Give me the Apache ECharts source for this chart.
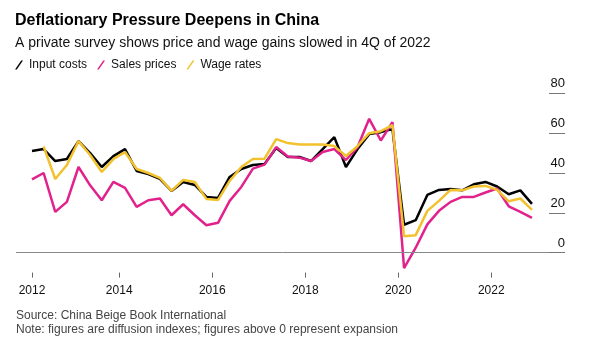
<!DOCTYPE html>
<html>
<head>
<meta charset="utf-8">
<script src="https://cdn.jsdelivr.net/npm/echarts@6/dist/echarts.min.js"></script>
<style>
html,body{margin:0;padding:0;background:#fff;}
#chart{width:591px;height:351px;}
</style>
</head>
<body>
<div id="chart"></div>
<script>
// ---- data (quarterly diffusion indexes) ----
const quarters = [
  '2012Q1','2012Q2','2012Q3','2012Q4','2013Q1','2013Q2','2013Q3','2013Q4',
  '2014Q1','2014Q2','2014Q3','2014Q4','2015Q1','2015Q2','2015Q3','2015Q4',
  '2016Q1','2016Q2','2016Q3','2016Q4','2017Q1','2017Q2','2017Q3','2017Q4',
  '2018Q1','2018Q2','2018Q3','2018Q4','2019Q1','2019Q2','2019Q3','2019Q4',
  '2020Q1','2020Q2','2020Q3','2020Q4','2021Q1','2021Q2','2021Q3','2021Q4',
  '2022Q1','2022Q2','2022Q3','2022Q4'
];
const inputCosts = [
  51, 52, 46, 47, 56, 50, 43, 48.5,
  52, 41, 39.5, 37, 31, 35.5, 34, 28,
  27.5, 38, 42, 44, 44.5, 52.5, 48, 48,
  46, 52, 58, 43, 52, 59.5, 60.5, 62,
  14, 16.3, 29, 31.5, 32, 31.3, 34.3, 35.5,
  33.2, 29.3, 31.3, 24.5
];
const salesPrices = [
  36.8, 40, 20.5, 25.5, 43, 33.8, 26.3, 35.5,
  32.5, 23, 26.3, 27.2, 18.8, 24.3, 18.8, 13.8,
  15, 26, 33, 42.2, 44.2, 53, 48.3, 47.7,
  46, 50.5, 52, 46.5, 53, 67.2, 56.3, 65.5,
  -7.8, 2.5, 14.2, 21, 25.5, 28, 28, 30.2,
  32.2, 23.3, 20.5, 17.5
];
const wageRates = [
  null, 53.3, 37, 44, 56, 49, 40.5, 47,
  50.5, 42, 40, 37.5, 31, 36.5, 35.5, 27,
  26.5, 36, 43, 47, 47.2, 57, 55, 54.3,
  54.3, 54.3, 53.5, 48.5, 53.5, 60, 61, 64,
  8.3, 8.8, 21, 26, 31.5, 31.3, 33.2, 33.5,
  31.5, 25.8, 27.2, 21.5
];
const seriesNames = ['Input costs', 'Sales prices', 'Wage rates'];
const xTickLabels = ['2012', '2014', '2016', '2018', '2020', '2022'];
const yTickValues = [0, 20, 40, 60, 80];

// ---- helpers ----
function qToX(q) {
  const y = +q.slice(0, 4), n = +q.slice(5);
  return y + (n - 0.5) / 4;
}
const xs = quarters.map(qToX);
const firstX = xs[0], lastX = xs[xs.length - 1];
const xMin = firstX - 0.344, xMax = lastX + 0.366;
const xTickPos = xTickLabels.map(l => Math.max(+l, firstX));
function pair(vals) { return vals.map((v, i) => [xs[i], v]); }

const FONT = '"Liberation Sans", Arial, Helvetica, sans-serif';
const colors = ['#000000', '#e1228d', '#f2c12e'];

const chart = echarts.init(document.getElementById('chart'), null, {renderer: 'canvas'});
chart.setOption({
  animation: false,
  backgroundColor: '#fff',
  title: [
    {text: 'Deflationary Pressure Deepens in China', left: 15, top: 12, padding: 0,
     textStyle: {fontFamily: FONT, fontSize: 16, fontWeight: 'bold', color: '#000', lineHeight: 18}},
    {text: 'A private survey shows price and wage gains slowed in 4Q of 2022', left: 15, top: 35, padding: 0,
     textStyle: {fontFamily: FONT, fontSize: 14, fontWeight: 'normal', color: '#111', lineHeight: 16}},
    {text: 'Source: China Beige Book International', left: 16, top: 309, padding: 0,
     textStyle: {fontFamily: FONT, fontSize: 12, fontWeight: 'normal', color: '#444', lineHeight: 14}},
    {text: 'Note: figures are diffusion indexes; figures above 0 represent expansion', left: 16, top: 323, padding: 0,
     textStyle: {fontFamily: FONT, fontSize: 12, fontWeight: 'normal', color: '#444', lineHeight: 14}}
  ],
  legend: {
    left: 15, top: 59, padding: 0, itemGap: 10, itemWidth: 8, itemHeight: 10,
    icon: 'path://M0,10 L7,0 L9,0 L2,10 Z',
    textStyle: {fontFamily: FONT, fontSize: 12, color: '#111', padding: [0, 0, 0, 1]},
    data: seriesNames
  },
  grid: {left: 16, right: 42, top: 93.3, bottom: 78.4, containLabel: false},
  xAxis: {
    type: 'value', min: xMin, max: xMax,
    axisLine: {show: false, onZero: false},
    splitLine: {show: false},
    axisTick: {show: true, length: 5, customValues: xTickPos, lineStyle: {color: '#666', width: 1}},
    axisLabel: {
      show: true, margin: 12, customValues: xTickPos,
      fontFamily: FONT, fontSize: 12, color: '#111',
      formatter: v => {
        const i = xTickPos.findIndex(p => Math.abs(p - v) < 1e-6);
        return i >= 0 ? xTickLabels[i] : '';
      }
    }
  },
  yAxis: {
    type: 'value', position: 'right', min: -10, max: 80,
    axisLine: {show: false},
    splitLine: {show: false},
    axisTick: {show: true, length: 16, customValues: yTickValues, lineStyle: {color: '#777', width: 1}},
    axisLabel: {
      show: true, customValues: yTickValues, margin: 16, align: 'right', verticalAlign: 'bottom',
      padding: [0, 0, 3, 0], fontFamily: FONT, fontSize: 13, color: '#111'
    }
  },
  series: [
    {name: seriesNames[0], type: 'line', data: pair(inputCosts), symbol: 'none', z: 2,
     lineStyle: {color: colors[0], width: 2.5}, itemStyle: {color: colors[0]},
     markLine: {silent: true, symbol: 'none', label: {show: false},
       lineStyle: {color: '#888', width: 1, type: 'solid'}, data: [{yAxis: 0}]}},
    {name: seriesNames[1], type: 'line', data: pair(salesPrices), symbol: 'none', z: 3,
     lineStyle: {color: colors[1], width: 2.5}, itemStyle: {color: colors[1]}},
    {name: seriesNames[2], type: 'line', data: pair(wageRates), symbol: 'none', z: 4,
     lineStyle: {color: colors[2], width: 2.5}, itemStyle: {color: colors[2]}}
  ]
});
</script>
</body>
</html>
